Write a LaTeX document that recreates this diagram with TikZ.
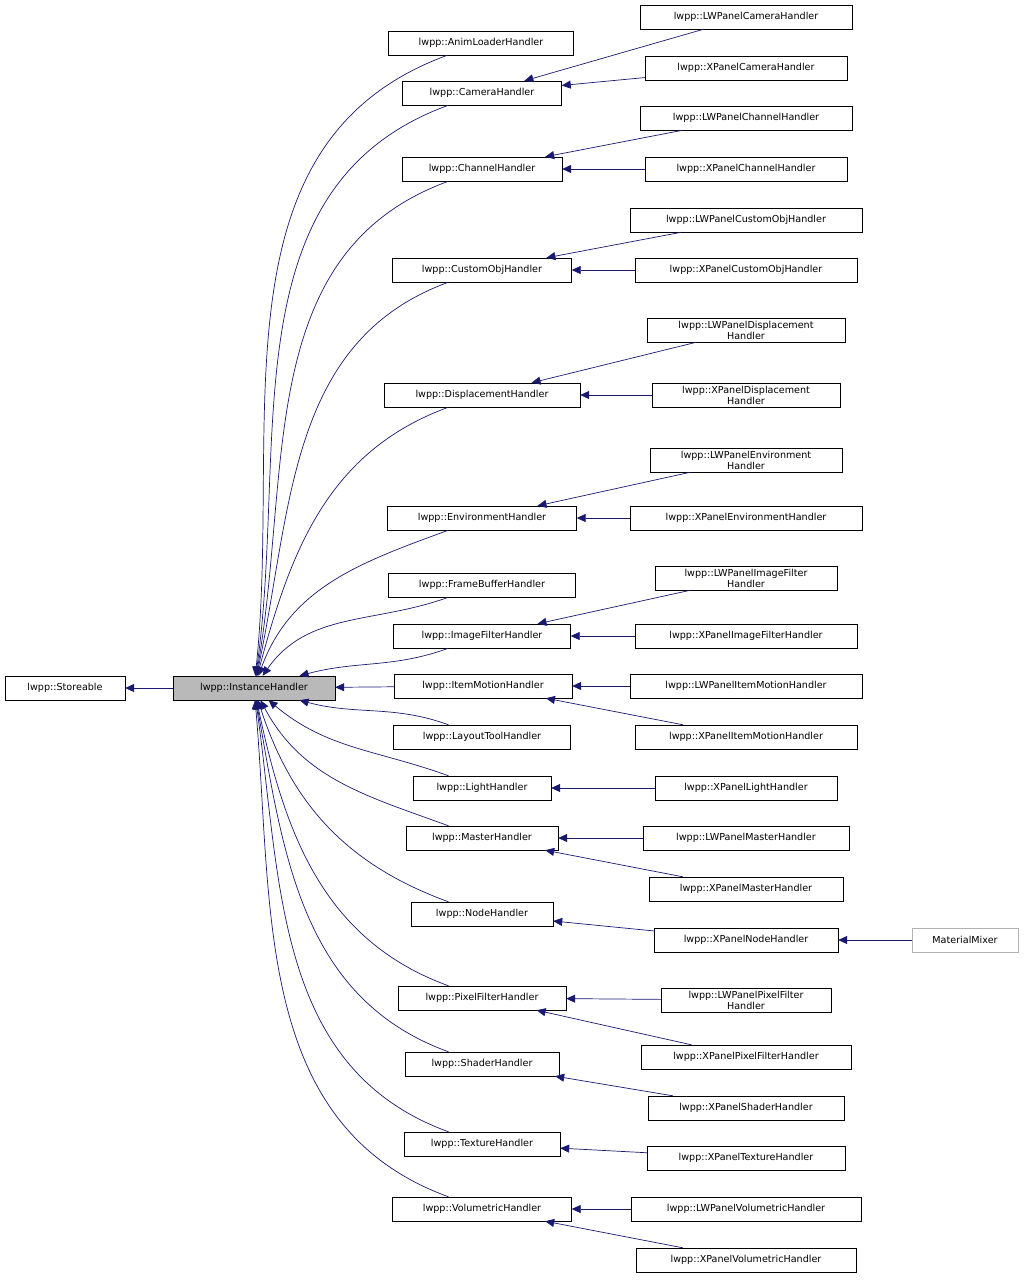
\documentclass[tikz,border=0pt]{standalone}
\usepackage{fontspec}
\setmainfont{DejaVu Sans}
\usetikzlibrary{arrows.meta}
\definecolor{edgeblue}{HTML}{191970}
\tikzset{
  cls/.style={draw=black, fill=white, inner sep=1pt, minimum height=24pt,
    font=\fontsize{9.6}{11}\selectfont, align=center},
  edge/.style={draw=edgeblue, line width=0.7pt, {Triangle[length=9pt,width=8pt,fill=edgeblue]}-}
}
\newcommand{\cls}[5]{\node[cls, minimum width=#4pt] (#1) at (#2pt,-#3pt) {#5};}
\begin{document}
\begin{tikzpicture}[x=1pt,y=1pt]
          \useasboundingbox (0,0) rectangle (1024,-1280);
          % base classes
          \cls{st}{65}{688}{120}{lwpp::Storeable}
          \node[cls, fill=gray!55, minimum width=162pt] (ih) at (254pt,-688pt) {lwpp::InstanceHandler};
          \draw[edge] (st) -- (ih);

          % handlers
          \cls{anim}{481}{43}{185}{lwpp::AnimLoaderHandler}
          \cls{cam}{482}{93}{159}{lwpp::CameraHandler}
          \cls{chan}{482}{169}{160}{lwpp::ChannelHandler}
          \cls{cobj}{482}{270}{179}{lwpp::CustomObjHandler}
          \cls{disp}{482}{395}{196}{lwpp::DisplacementHandler}
          \cls{env}{482}{518}{189}{lwpp::EnvironmentHandler}
          \cls{fbuf}{482}{585}{187}{lwpp::FrameBufferHandler}
          \cls{ifil}{482}{636}{177}{lwpp::ImageFilterHandler}
          \cls{imot}{483}{686}{178}{lwpp::ItemMotionHandler}
          \cls{lay}{482}{737}{177}{lwpp::LayoutToolHandler}
          \cls{light}{482}{788}{138}{lwpp::LightHandler}
          \cls{mast}{482}{838}{152}{lwpp::MasterHandler}
          \cls{node}{482}{914}{142}{lwpp::NodeHandler}
          \cls{pfil}{482}{998}{168}{lwpp::PixelFilterHandler}
          \cls{shad}{482}{1064}{154}{lwpp::ShaderHandler}
          \cls{tex}{482}{1144}{156}{lwpp::TextureHandler}
          \cls{vol}{482}{1209}{179}{lwpp::VolumetricHandler}

          % panels
          \cls{lwcam}{746}{17}{212}{lwpp::LWPanelCameraHandler}
          \cls{xcam}{746}{68}{202}{lwpp::XPanelCameraHandler}
          \cls{lwchan}{746}{118}{212}{lwpp::LWPanelChannelHandler}
          \cls{xchan}{746}{169}{202}{lwpp::XPanelChannelHandler}
          \cls{lwcobj}{746}{220}{232}{lwpp::LWPanelCustomObjHandler}
          \cls{xcobj}{746}{270}{222}{lwpp::XPanelCustomObjHandler}
          \cls{lwdisp}{746}{330}{198}{lwpp::LWPanelDisplacement\\Handler}
          \cls{xdisp}{746}{395}{188}{lwpp::XPanelDisplacement\\Handler}
          \cls{lwenv}{746}{460}{192}{lwpp::LWPanelEnvironment\\Handler}
          \cls{xenv}{746}{518}{232}{lwpp::XPanelEnvironmentHandler}
          \cls{lwifil}{746}{578}{182}{lwpp::LWPanelImageFilter\\Handler}
          \cls{xifil}{746}{636}{222}{lwpp::XPanelImageFilterHandler}
          \cls{lwimot}{746}{686}{232}{lwpp::LWPanelItemMotionHandler}
          \cls{ximot}{746}{737}{222}{lwpp::XPanelItemMotionHandler}
          \cls{xlight}{746}{788}{182}{lwpp::XPanelLightHandler}
          \cls{lwmast}{746}{838}{206}{lwpp::LWPanelMasterHandler}
          \cls{xmast}{746}{889}{194}{lwpp::XPanelMasterHandler}
          \cls{xnode}{746}{940}{184}{lwpp::XPanelNodeHandler}
          \cls{lwpfil}{746}{1000}{170}{lwpp::LWPanelPixelFilter\\Handler}
          \cls{xpfil}{746}{1057}{210}{lwpp::XPanelPixelFilterHandler}
          \cls{xshad}{746}{1108}{196}{lwpp::XPanelShaderHandler}
          \cls{xtex}{746}{1158}{198}{lwpp::XPanelTextureHandler}
          \cls{lwvol}{746}{1209}{230}{lwpp::LWPanelVolumetricHandler}
          \cls{xvol}{746}{1260}{220}{lwpp::XPanelVolumetricHandler}
          \node[cls, draw=gray!60, minimum width=106pt] (mix) at (965pt,-940pt) {MaterialMixer};

          % inheritance into InstanceHandler
          \foreach \c/\i in {anim/84,cam/82,chan/80,cobj/78,disp/75,env/70,fbuf/55,ifil/15}
            \draw[edge] (ih) to[in=200,out=\i] (\c);
          \draw[edge] (ih) -- (imot);
          \foreach \c/\i in {lay/-15,light/-40,mast/-62,node/-72,pfil/-78,shad/-80,tex/-82,vol/-85}
            \draw[edge] (ih) to[in=160,out=\i] (\c);

          % panels into handlers
          \foreach \p/\c in {lwcam/cam,xcam/cam,lwchan/chan,xchan/chan,lwcobj/cobj,xcobj/cobj,
              lwdisp/disp,xdisp/disp,lwenv/env,xenv/env,lwifil/ifil,xifil/ifil,lwimot/imot,ximot/imot,
              xlight/light,lwmast/mast,xmast/mast,xnode/node,lwpfil/pfil,xpfil/pfil,xshad/shad,
              xtex/tex,lwvol/vol,xvol/vol}
            \draw[edge] (\c) -- (\p);
          \draw[edge] (xnode) -- (mix);
\end{tikzpicture}
\end{document}
